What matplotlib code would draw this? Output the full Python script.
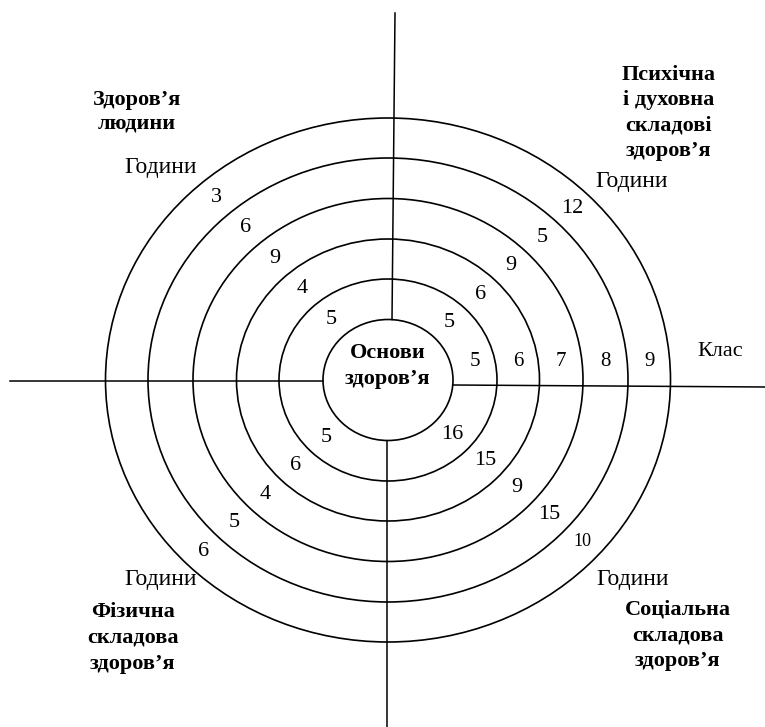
import numpy as np
import matplotlib.pyplot as plt
from matplotlib.patches import Ellipse

plt.rcParams['font.family'] = ['Liberation Serif', 'DejaVu Serif']

# ── Data ─────────────────────────────────────────────────────────────────────
classes = [5, 6, 7, 8, 9]                      # inner ring -> outer ring
hours_health   = [5, 4, 9, 6, 3]               # top-left
hours_mental   = [5, 6, 9, 5, 12]              # top-right
hours_social   = [16, 15, 9, 15, 10]           # bottom-right
hours_physical = [5, 6, 4, 5, 6]               # bottom-left

center_title = 'Основи\nздоров’я'
quad_titles = ['Здоров’я\nлюдини',
               'Психічна\nі духовна\nскладові\nздоров’я',
               'Соціальна\nскладова\nздоров’я',
               'Фізична\nскладова\nздоров’я']
hours_word = 'Години'
class_word = 'Клас'

# ── Geometry (pixel space) ───────────────────────────────────────────────────
W, H = 765, 727
cx, cy = 388, 380
rx = np.array([65, 109, 151.5, 195, 240, 282.5])   # horizontal semi-axes
ry = np.array([60.5, 101, 141, 181.5, 222, 262])   # vertical semi-axes
mid_rx = (rx[:-1] + rx[1:]) / 2
mid_ry = (ry[:-1] + ry[1:]) / 2

fig = plt.figure(figsize=(W / 100, H / 100), dpi=100)
ax = fig.add_axes([0, 0, 1, 1])
ax.set_xlim(0, W)
ax.set_ylim(H, 0)
ax.axis('off')

for a, b in zip(rx, ry):
    ax.add_patch(Ellipse((cx, cy), 2 * a, 2 * b, fill=False,
                         edgecolor='black', linewidth=1.2))

# axes lines (broken at the inner circle)
lw = 1.1
ax.plot([10, cx - rx[0]], [381, 381], color='black', lw=lw)
ax.plot([cx + rx[0], W], [385, 387], color='black', lw=lw)
ax.plot([395, 392], [13, cy - ry[0]], color='black', lw=lw)
ax.plot([387, 387], [cy + ry[0], H], color='black', lw=lw)

NUM = 16
# class numbers along right axis
for x_r, c in zip(mid_rx, classes):
    ax.text(cx + x_r, cy - 18, str(c), ha='center', va='center', fontsize=15)

def ring_labels(vals, ang):
    t = np.deg2rad(ang)
    for a, b, v in zip(mid_rx, mid_ry, vals):
        fs = 13 if v == 10 else NUM
        ax.text(cx + a * np.cos(t), cy - b * np.sin(t), str(v),
                ha='center', va='center', fontsize=fs)

ring_labels(hours_health, 131)
ring_labels(hours_mental, 45)
ring_labels(hours_social, -42)
ring_labels(hours_physical, 225)

# "Години" and "Клас"
for x, y in [(161, 167), (632, 181), (633, 580), (161, 580)]:
    ax.text(x, y, hours_word, ha='center', va='center', fontsize=17)
ax.text(720, 352, class_word, ha='center', va='center', fontsize=16)

# bold titles
TB = 16
ax.text(cx, 366, center_title, ha='center', va='center', fontsize=TB,
        fontweight='bold', linespacing=1.45)
ax.text(137, 112, quad_titles[0], ha='center', va='center', fontsize=TB,
        fontweight='bold', linespacing=1.25)
ax.text(669, 113, quad_titles[1], ha='center', va='center', fontsize=TB,
        fontweight='bold', linespacing=1.35)
ax.text(678, 635, quad_titles[2], ha='center', va='center', fontsize=TB,
        fontweight='bold', linespacing=1.38)
ax.text(133, 638, quad_titles[3], ha='center', va='center', fontsize=TB,
        fontweight='bold', linespacing=1.4)

fig.savefig('out.png', dpi=100, facecolor='white')
